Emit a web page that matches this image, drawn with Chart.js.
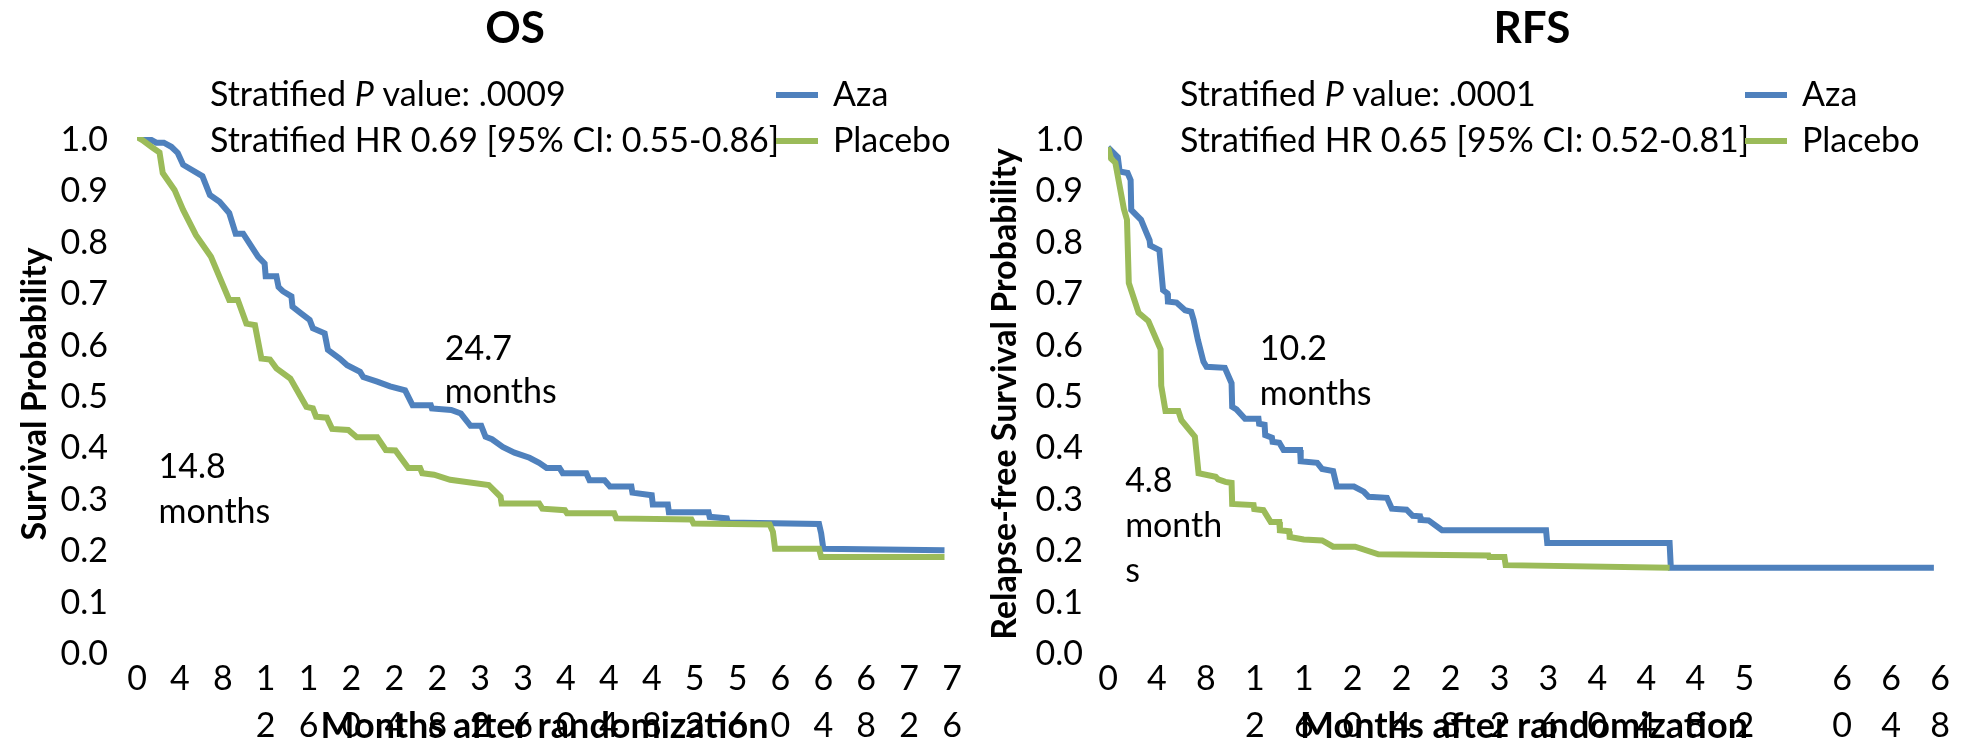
<!DOCTYPE html>
<html>
<head>
<meta charset="utf-8">
<script src="https://cdn.jsdelivr.net/npm/chart.js@4.4.1/dist/chart.umd.min.js"></script>
<style>
  body { margin: 0; background: #fff; width: 1969px; height: 744px; overflow: hidden; display: flex; }
  canvas { display: block; }
</style>
</head>
<body>
<canvas id="os" width="985" height="744"></canvas>
<canvas id="rfs" width="984" height="744"></canvas>
<script>
// Overall survival (months after randomization, survival probability)
const osAzaMonths = [0, 1.1, 1.8, 2.5, 3.2, 3.8, 4.3, 6.1, 6.8, 7.7, 8.6, 9.2, 9.9, 11.3, 11.9, 12.0, 13.0, 13.2, 13.6, 14.4,
  14.5, 15.3, 16.1, 16.4, 17.5, 17.8, 18.9, 19.6, 20.8, 21.1, 22.4, 23.6, 25.0, 25.7, 27.4, 27.5, 29.3, 30.2, 31.1, 32.1,
  32.5, 33.1, 34.1, 35.2, 36.6, 37.5, 38.2, 39.4, 39.7, 41.9, 42.2, 43.6, 44.1, 46.1, 46.2, 48.0, 48.1, 49.5, 49.6, 53.3,
  53.4, 55.0, 55.1, 63.6, 63.8, 64.0, 75.3]
const osAzaProb = [1.0, 0.997, 0.989, 0.989, 0.981, 0.969, 0.946, 0.924, 0.887, 0.874, 0.852, 0.812, 0.812, 0.767, 0.754, 0.729, 0.729, 0.708, 0.700, 0.690,
  0.670, 0.657, 0.644, 0.628, 0.618, 0.586, 0.569, 0.556, 0.543, 0.533, 0.524, 0.515, 0.507, 0.478, 0.478, 0.472, 0.469, 0.462, 0.438, 0.438,
  0.417, 0.412, 0.397, 0.386, 0.376, 0.366, 0.356, 0.356, 0.346, 0.346, 0.332, 0.332, 0.320, 0.320, 0.308, 0.303, 0.285, 0.285, 0.270, 0.270,
  0.261, 0.258, 0.250, 0.247, 0.229, 0.199, 0.196]
const osPlaceboMonths = [0, 0.5, 1.4, 2.1, 2.4, 3.5, 4.3, 5.5, 6.9, 8.6, 9.4, 10.2, 11.0, 11.6, 12.4, 13.0, 14.3, 15.8, 16.4, 16.7,
  17.7, 18.2, 19.7, 20.5, 22.4, 23.2, 24.1, 25.3, 26.4, 26.6, 27.7, 29.2, 32.8, 33.9, 34.0, 37.5, 37.8, 39.9, 40.1, 44.5,
  44.7, 51.7, 51.9, 59.0, 59.3, 59.5, 63.6, 63.8, 75.3]
const osPlaceboProb = [1.0, 0.994, 0.980, 0.970, 0.930, 0.897, 0.858, 0.809, 0.767, 0.683, 0.683, 0.637, 0.634, 0.569, 0.567, 0.550, 0.530, 0.475, 0.472, 0.456,
  0.454, 0.432, 0.430, 0.416, 0.416, 0.391, 0.390, 0.356, 0.356, 0.346, 0.343, 0.333, 0.323, 0.300, 0.287, 0.287, 0.277, 0.274, 0.268, 0.268,
  0.258, 0.256, 0.248, 0.246, 0.232, 0.199, 0.199, 0.183, 0.183]

// Relapse-free survival
const rfsAzaMonths = [0, 0.8, 0.95, 1.6, 1.85, 1.9, 2.7, 3.1, 3.4, 3.45, 4.2, 4.5, 4.85, 4.9, 5.6, 6.3, 6.8, 7.0, 7.35, 7.8,
  8.05, 9.55, 10.1, 10.15, 10.5, 11.2, 12.3, 12.35, 12.8, 12.85, 13.4, 13.45, 14.0, 14.35, 15.7, 15.75, 17.1, 17.5, 18.4, 18.7,
  20.1, 20.9, 21.3, 22.8, 23.2, 24.4, 24.9, 25.5, 25.55, 26.2, 27.3, 35.8, 35.9, 45.9, 46.0, 67.5]
const rfsAzaProb = [0.98, 0.961, 0.933, 0.930, 0.916, 0.858, 0.839, 0.816, 0.799, 0.789, 0.780, 0.702, 0.696, 0.680, 0.678, 0.663, 0.660, 0.644, 0.605, 0.563,
  0.553, 0.551, 0.521, 0.475, 0.470, 0.452, 0.452, 0.442, 0.440, 0.420, 0.415, 0.407, 0.405, 0.391, 0.391, 0.369, 0.366, 0.354, 0.350, 0.320,
  0.320, 0.310, 0.300, 0.298, 0.277, 0.275, 0.263, 0.262, 0.255, 0.254, 0.235, 0.235, 0.210, 0.210, 0.162, 0.162]
const rfsPlaceboMonths = [0, 0.25, 0.6, 1.3, 1.55, 1.7, 2.5, 3.3, 4.3, 4.35, 4.7, 5.75, 6.0, 7.1, 7.4, 8.8, 9.0, 9.6, 10.1, 10.15,
  11.9, 11.95, 12.7, 13.3, 14.0, 14.05, 14.8, 14.85, 16.0, 17.5, 18.4, 20.2, 22.1, 31.1, 31.15, 32.4, 32.5, 45.9]
const rfsPlaceboProb = [0.98, 0.958, 0.950, 0.860, 0.839, 0.716, 0.658, 0.642, 0.587, 0.516, 0.467, 0.467, 0.449, 0.417, 0.346, 0.339, 0.334, 0.329, 0.327, 0.286,
  0.284, 0.276, 0.274, 0.251, 0.251, 0.235, 0.233, 0.222, 0.217, 0.215, 0.203, 0.203, 0.188, 0.186, 0.183, 0.183, 0.167, 0.162]

// axis ticks
const osMonthTicks = [0, 4, 8, 12, 16, 20, 24, 28, 32, 36, 40, 44, 48, 52, 56, 60, 64, 68, 72, 76]
const rfsMonthTicks = [0, 4, 8, 12, 16, 20, 24, 28, 32, 36, 40, 44, 48, 52, 60, 64, 68]

const FONT = '34px Lato'
const BLUE = '#4f81bd'
const GREEN = '#9bbb59'

const pts = (xs, ys) => xs.map((x, i) => ({x: x, y: ys[i]}))

// title, stats text, legend and median labels
const panelText = {
  id: 'panelText',
  afterDraw(chart, args, o) {
    const ctx = chart.ctx
    const x = chart.scales.x, y = chart.scales.y
    ctx.save()
    ctx.fillStyle = '#000'
    ctx.textBaseline = 'middle'
    ctx.textAlign = 'center'
    ctx.font = 'bold 44px Lato'
    ctx.fillText(o.title, o.titleX, 29)

    ctx.textAlign = 'left'
    let xx = o.statsX
    ;[['Stratified ', FONT], ['P', 'italic ' + FONT], [' value: ' + o.p, FONT]].forEach(([t, f]) => {
      ctx.font = f
      ctx.fillText(t, xx, 95)
      xx += ctx.measureText(t).width
    })
    ctx.font = FONT
    ctx.fillText(o.hr, o.statsX, 141)

    chart.data.datasets.forEach((ds, i) => {
      const ly = i == 0 ? 95 : 141
      ctx.strokeStyle = ds.borderColor
      ctx.lineWidth = 6
      ctx.beginPath()
      ctx.moveTo(o.legendX, ly)
      ctx.lineTo(o.legendX + 42, ly)
      ctx.stroke()
      ctx.fillText(ds.label, o.legendX + 57, ly)
    })

    ctx.textBaseline = 'alphabetic'
    o.notes.forEach(n => {
      const px = x.getPixelForValue(n.x), py = y.getPixelForValue(n.y)
      n.lines.forEach((t, k) => ctx.fillText(t, px, py + k * n.gap))
    })
    ctx.restore()
  }
}

function makeChart(id, c) {
  return new Chart(id, {
    type: 'line',
    data: {
      datasets: [
        {label: 'Aza', data: c.aza, borderColor: BLUE, borderWidth: 6, pointRadius: 0, order: 1},
        {label: 'Placebo', data: c.placebo, borderColor: GREEN, borderWidth: 6, pointRadius: 0, order: 0}
      ]
    },
    options: {
      responsive: false,
      animation: false,
      devicePixelRatio: 1,
      layout: {padding: {top: 137, left: 0, right: c.padRight, bottom: 0}},
      plugins: {
        legend: {display: false},
        tooltip: {enabled: false},
        panelText: c.text
      },
      scales: {
        x: {
          type: 'linear', min: 0, max: c.xMax,
          afterBuildTicks: s => { s.ticks = c.ticks.map(v => ({value: v})) },
          afterFit: s => { s.height = 93 },
          grid: {display: false, drawTicks: false},
          border: {display: false},
          ticks: {
            autoSkip: false, maxRotation: 0, padding: 5, color: '#000',
            font: {family: 'Lato', size: 34, lineHeight: 1.376},
            callback: v => String(v).split('')
          },
          title: {
            display: true, text: 'Months after randomization', color: '#000',
            font: {family: 'Lato', size: 36, weight: 'bold', lineHeight: 1},
            padding: {top: 0, bottom: 0}
          }
        },
        y: {
          min: 0, max: 1,
          afterFit: s => { s.width = c.yWidth },
          grid: {display: false, drawTicks: false},
          border: {display: false},
          ticks: {
            stepSize: 0.1, padding: c.yPad, labelOffset: 3, color: '#000',
            font: {family: 'Lato', size: 34},
            callback: v => v.toFixed(1)
          },
          title: {
            display: true, text: c.yTitle, color: '#000',
            font: {family: 'Lato', size: 34, weight: 'bold', lineHeight: 1},
            padding: {top: c.yTitlePad, bottom: 0}
          }
        }
      }
    },
    plugins: [panelText]
  })
}

makeChart('os', {
  aza: pts(osAzaMonths, osAzaProb),
  placebo: pts(osPlaceboMonths, osPlaceboProb),
  xMax: 76, ticks: osMonthTicks, padRight: 33,
  yWidth: 137, yPad: 29, yTitle: 'Survival Probability', yTitlePad: 18,
  text: {
    title: 'OS', titleX: 515, statsX: 210, legendX: 776,
    p: '.0009', hr: 'Stratified HR 0.69 [95% CI: 0.55-0.86]',
    notes: [
      {x: 28.7, y: 0.566, lines: ['24.7', 'months'], gap: 43},
      {x: 2.0, y: 0.337, lines: ['14.8', 'months'], gap: 45}
    ]
  }
})

makeChart('rfs', {
  aza: pts(rfsAzaMonths, rfsAzaProb),
  placebo: pts(rfsPlaceboMonths, rfsPlaceboProb),
  xMax: 68, ticks: rfsMonthTicks, padRight: 29,
  yWidth: 123, yPad: 25, yTitle: 'Relapse-free Survival Probability', yTitlePad: 3,
  text: {
    title: 'RFS', titleX: 547, statsX: 195, legendX: 760,
    p: '.0001', hr: 'Stratified HR 0.65 [95% CI: 0.52-0.81]',
    notes: [
      {x: 12.4, y: 0.566, lines: ['10.2', 'months'], gap: 45},
      {x: 1.4, y: 0.309, lines: ['4.8', 'month', 's'], gap: 45}
    ]
  }
})
</script>
</body>
</html>
